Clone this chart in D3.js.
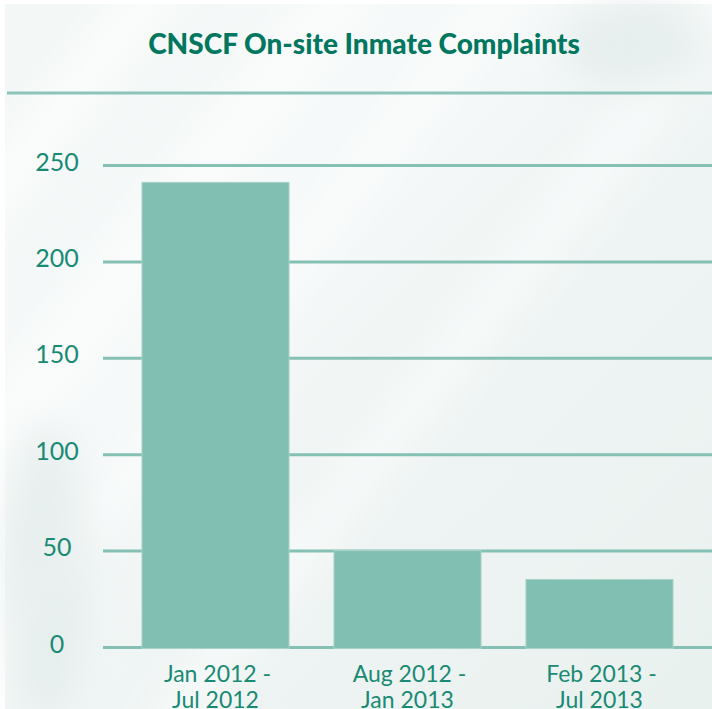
<!DOCTYPE html>
<html>
<head>
<meta charset="utf-8">
<script src="https://cdn.jsdelivr.net/npm/d3@7"></script>
<style>
  html, body { margin: 0; padding: 0; background: #ffffff; }
  svg { display: block; }
</style>
</head>
<body>
<div class="chart"></div>
<script>
var categories = ["Jan 2012 - Jul 2012", "Aug 2012 - Jan 2013", "Feb 2013 - Jul 2013"];
var labelLines = [["Jan 2012 -", "Jul 2012"], ["Aug 2012 -", "Jan 2013"], ["Feb 2013 -", "Jul 2013"]];
var complaints = [241, 50, 35];
var yTicks = [0, 50, 100, 150, 200, 250];

var w = 712;
var h = 709;
var plotLeft = 103;
var plotTop = 165;
var plotBottom = 647;

var svg = d3.select(".chart")
            .append("svg")
            .attr("width", w)
            .attr("height", h);

/**
 * Background with soft light streaks
 */
var defs = svg.append("defs");
var bg = defs.append("linearGradient")
             .attr("id", "bg")
             .attr("x1", "0").attr("y1", "0")
             .attr("x2", "1").attr("y2", "1");
bg.append("stop").attr("offset", "0").attr("stop-color", "#f3f7f6");
bg.append("stop").attr("offset", "0.35").attr("stop-color", "#f6f9f9");
bg.append("stop").attr("offset", "0.6").attr("stop-color", "#eef4f3");
bg.append("stop").attr("offset", "1").attr("stop-color", "#e9f1ef");

var blur = defs.append("filter").attr("id", "soft")
               .attr("x", "-50%").attr("y", "-50%")
               .attr("width", "200%").attr("height", "200%");
blur.append("feGaussianBlur").attr("stdDeviation", 18);

svg.append("rect")
   .attr("x", 5).attr("y", 4)
   .attr("width", w - 5).attr("height", h - 4)
   .attr("fill", "url(#bg)");

var streaks = svg.append("g")
                 .attr("filter", "url(#soft)");
[[-60, 40, 0.7], [120, 60, 0.5], [300, 30, 0.6], [520, 50, 0.45]].forEach(function(s) {
  streaks.append("rect")
         .attr("x", s[0]).attr("y", -200)
         .attr("width", s[1]).attr("height", 1200)
         .attr("fill", "#ffffff")
         .attr("opacity", s[2])
         .attr("transform", "rotate(38," + (s[0] + 200) + ",300)");
});
[[0, 420, 90, 300], [560, 0, 150, 90]].forEach(function(s) {
  streaks.append("ellipse")
         .attr("cx", s[0] + s[2] / 2).attr("cy", s[1] + s[3] / 2)
         .attr("rx", s[2] / 2).attr("ry", s[3] / 2)
         .attr("fill", "#dfeae7")
         .attr("opacity", 0.6);
});

/**
 * Scales
 */
var xScale = d3.scaleBand()
               .domain(categories)
               .range([plotLeft, w])
               .paddingInner(0.234)
               .paddingOuter(0.203);

var yScale = d3.scaleLinear()
               .domain([0, 250])
               .range([plotBottom, plotTop]);

/**
 * Title and rule under it
 */
svg.append("text")
   .attr("x", 364)
   .attr("y", 54)
   .attr("text-anchor", "middle")
   .style("font-family", "Lato, 'Open Sans', sans-serif")
   .style("font-weight", "900")
   .style("font-size", "28px")
   .style("fill", "#00775e")
   .text("CNSCF On-site Inmate Complaints");

svg.append("line")
   .attr("x1", 7).attr("x2", w)
   .attr("y1", 93).attr("y2", 93)
   .attr("stroke", "#8cc4b9")
   .attr("stroke-width", 3);

/**
 * Gridlines and y labels (labels centred in the left margin)
 */
var yAxis = d3.axisLeft(yScale)
              .tickValues(yTicks)
              .tickSize(-(w - plotLeft))
              .tickPadding(46);

var yg = svg.append("g")
            .attr("transform", "translate(" + plotLeft + ",0)")
            .call(yAxis);
yg.select(".domain").remove();
yg.selectAll(".tick line")
  .attr("stroke", "#85c0b4")
  .attr("stroke-width", 3);
yg.selectAll(".tick text")
  .attr("dy", "0.2em")
  .attr("text-anchor", "middle")
  .style("font-family", "Lato, sans-serif")
  .style("font-size", "25px")
  .style("fill", "#1a8a74");

/**
 * Bars
 */
svg.append("g")
   .selectAll("rect")
   .data(complaints)
   .enter()
   .append("rect")
   .attr("x", function(d, i) { return xScale(categories[i]); })
   .attr("y", function(d) { return yScale(d); })
   .attr("width", xScale.bandwidth())
   .attr("height", function(d) { return yScale(0) - yScale(d) + 1.5; })
   .attr("fill", "#82bfb3")
   .attr("stroke", "#a9d3ca")
   .attr("stroke-width", 1);

/**
 * Category labels
 */
var xl = svg.append("g")
            .selectAll("text")
            .data(labelLines)
            .enter()
            .append("text")
            .attr("text-anchor", "middle")
            .style("font-family", "Lato, sans-serif")
            .style("font-size", "23px")
            .style("fill", "#1a8a74");

xl.each(function(lines, i) {
  var cx = xScale(categories[i]) + xScale.bandwidth() / 2;
  d3.select(this).selectAll("tspan")
    .data(lines)
    .enter()
    .append("tspan")
    .attr("x", function(d, j) { return j === 0 ? cx + 2 : cx; })
    .attr("y", function(d, j) { return 682 + j * 26; })
    .text(function(d) { return d; });
});
</script>
</body>
</html>
